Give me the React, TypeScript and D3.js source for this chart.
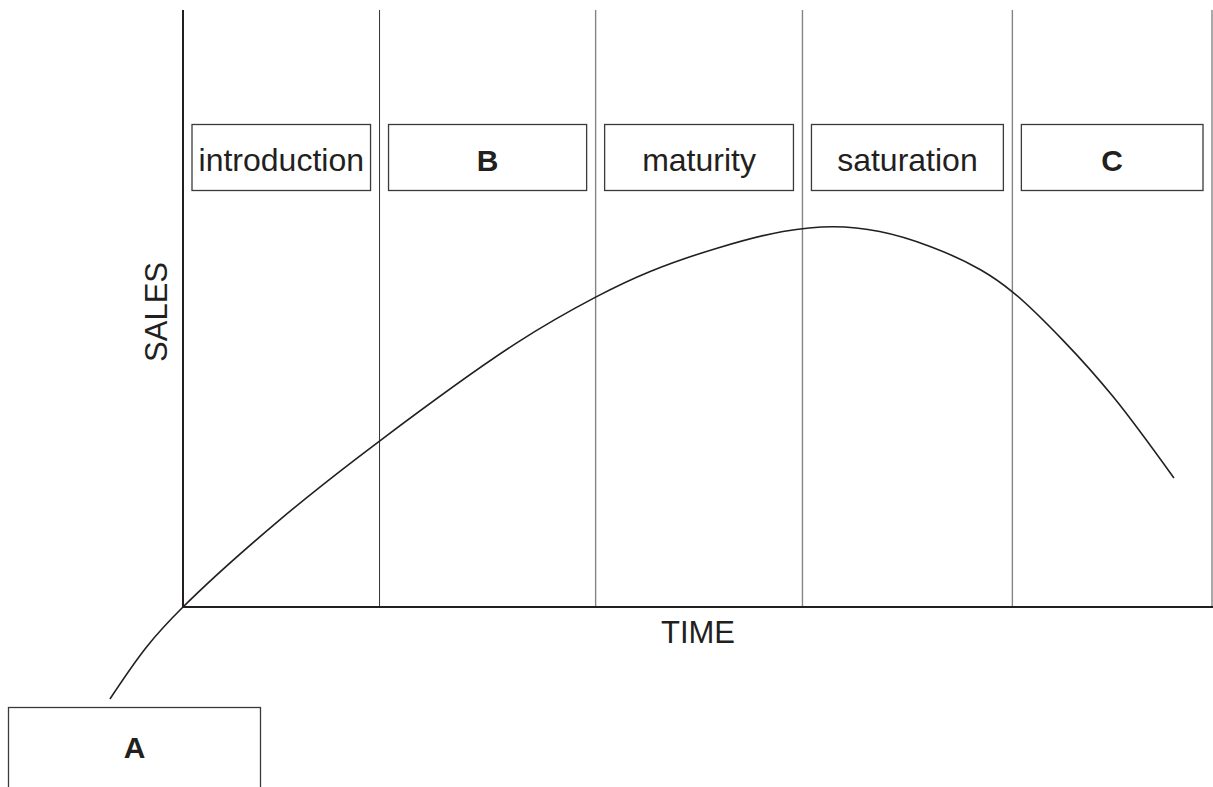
import React from "react";
import * as d3 from "d3";

// product life cycle curve (time and sales on a 0-100 scale)
const timeValues = [-7.1, -3.5, 0, 9.4, 19.1, 32.4, 40.1, 45.4, 51.9, 58.3, 63.2, 67.7, 72.6, 77.5, 80.6, 85.5, 90.4, 96.3];
const salesValues = [-15.4, -6.6, 0, 14.6, 27.8, 44.2, 51.9, 56.2, 60.1, 62.9, 63.7, 62.9, 60.4, 56.5, 52.8, 44.7, 35.2, 21.6];

const stageEnds = [19.1, 40.1, 60.2, 80.6, 100];
const stageLabels = ["introduction", "B", "maturity", "saturation", "C"];
const stageBold = [false, true, false, false, true];

const INK = "#231f20";
const FONT = "Liberation Sans, Arial, sans-serif";

const App = () => {
    const width = 1213;
    const height = 787;

    const xScale = d3.scaleLinear().domain([0, 100]).range([183, 1212]);
    const yScale = d3.scaleLinear().domain([0, 100]).range([607, 10]);

    const points = timeValues.map((t, i) => [t, salesValues[i]]);
    const line = d3.line()
        .x((d) => xScale(d[0]))
        .y((d) => yScale(d[1]))
        .curve(d3.curveCatmullRom.alpha(0.5));

    const starts = [0, ...stageEnds.slice(0, -1)];

    return (
        <svg width={width} height={height} style={{ position: "absolute", left: 0, top: 0, background: "#fff" }}>
            {/* stage separators */}
            {stageEnds.map((t, i) => (
                <line key={"sep" + i}
                    x1={xScale(t)} x2={xScale(t)} y1={yScale(100)} y2={yScale(0)}
                    stroke={i === 0 ? "#333" : "#858585"} strokeWidth={i === 0 ? 1 : 1.4} />
            ))}

            {/* stage boxes */}
            {stageLabels.map((label, i) => {
                const x0 = xScale(starts[i]) + 9;
                const x1 = xScale(stageEnds[i]) - 9;
                return (
                    <g key={"box" + i}>
                        <rect x={x0} y={124.5} width={x1 - x0} height={66}
                            fill="#fff" stroke="#3a3a3a" strokeWidth={1.3} />
                        <text x={(x0 + x1) / 2} y={170.5} textAnchor="middle"
                            fontFamily={FONT} fontSize={stageBold[i] ? 30 : 32} fontWeight={stageBold[i] ? "bold" : "normal"}
                            fill={INK}>{label}</text>
                    </g>
                );
            })}

            {/* axes */}
            <line x1={xScale(0)} x2={xScale(0)} y1={yScale(100)} y2={yScale(0) + 1} stroke={INK} strokeWidth={2} />
            <line x1={xScale(0)} x2={width} y1={yScale(0)} y2={yScale(0)} stroke={INK} strokeWidth={2} />

            {/* sales curve */}
            <path d={line(points)} fill="none" stroke={INK} strokeWidth={1.6} />

            {/* axis titles */}
            <text x={698} y={643} textAnchor="middle" fontFamily={FONT} fontSize={31} fill={INK}>TIME</text>
            <text transform="translate(167,312) rotate(-90)" textAnchor="middle"
                fontFamily={FONT} fontSize={31} fill={INK}>SALES</text>

            {/* box A */}
            <rect x={8.5} y={707.5} width={252} height={100} fill="#fff" stroke="#3a3a3a" strokeWidth={1.3} />
            <text x={134.5} y={758} textAnchor="middle" fontFamily={FONT} fontSize={30} fontWeight="bold" fill={INK}>A</text>
        </svg>
    );
};

export default App;
